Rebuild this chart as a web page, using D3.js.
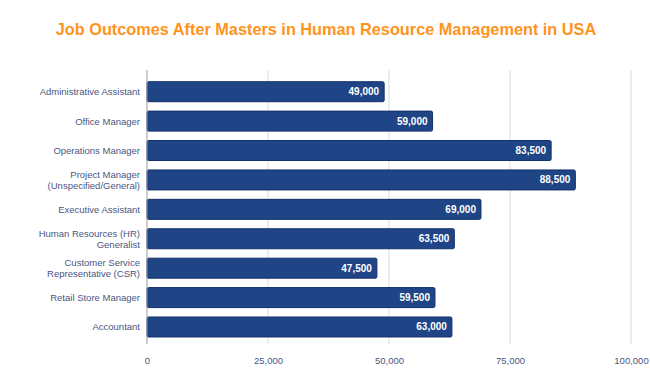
<!DOCTYPE html>
<html><head><meta charset="utf-8">
<script src="https://cdn.jsdelivr.net/npm/d3@7"></script>
<style>body{margin:0;background:#fff;}svg{display:block;font-family:"Liberation Sans",Arial,sans-serif;}</style>
</head><body><div id="chart"></div>
<script>
const categories = [
  "Administrative Assistant",
  "Office Manager",
  "Operations Manager",
  "Project Manager|(Unspecified/General)",
  "Executive Assistant",
  "Human Resources (HR)|Generalist",
  "Customer Service|Representative (CSR)",
  "Retail Store Manager",
  "Accountant"
];
const salaries = [49000, 59000, 83500, 88500, 69000, 63500, 47500, 59500, 63000];
const xTicks = [0, 25000, 50000, 75000, 100000];
const title = "Job Outcomes After Masters in Human Resource Management in USA";

const W = 650, H = 382;
const m = {left: 147, right: 19, top: 77, bottom: 40};
const svg = d3.select("#chart").append("svg").attr("width", W).attr("height", H);

svg.append("text").attr("x", 326).attr("y", 34.5).attr("text-anchor", "middle")
  .attr("fill", "#ff9320").attr("font-size", 16.3).attr("font-weight", "bold").text(title);

const x = d3.scaleLinear().domain([0, 100000]).range([m.left, 631]);
const y = d3.scaleBand().domain(categories).range([m.top, 341.7]).paddingInner(0.32).paddingOuter(0.16);

const fmt = d3.format(",");
// gridlines
svg.append("g").selectAll("line").data(xTicks.slice(1)).join("line")
  .attr("x1", d => x(d)).attr("x2", d => x(d)).attr("y1", 70).attr("y2", 344)
  .attr("stroke", "#dcdcdc").attr("stroke-width", 1);

const xAxis = d3.axisBottom(x).tickValues(xTicks).tickFormat(fmt).tickSize(0).tickPadding(9);
const gx = svg.append("g").attr("transform", "translate(0,348)").call(xAxis);
gx.select(".domain").remove();
gx.selectAll("text").attr("fill", "#4a5682").attr("font-size", 9.5).attr("font-family", "Liberation Sans, Arial, sans-serif");

// bars
svg.append("g").selectAll("rect").data(categories).join("rect")
  .attr("x", x(0)).attr("y", d => y(d))
  .attr("width", (d, i) => x(salaries[i]) - x(0)).attr("height", y.bandwidth())
  .attr("rx", 1.5).attr("fill", "#1f4587").attr("stroke", "#12306a").attr("stroke-width", 1);

// zero axis line
svg.append("line").attr("x1", x(0)).attr("x2", x(0)).attr("y1", 70).attr("y2", 344)
  .attr("stroke", "#9a9a9a").attr("stroke-width", 1);

// value labels
svg.append("g").selectAll("text").data(categories).join("text")
  .attr("x", (d, i) => x(salaries[i]) - 5).attr("y", d => y(d) + y.bandwidth() / 2 + 3.5)
  .attr("text-anchor", "end").attr("fill", "#fff").attr("font-size", 10).attr("font-weight", "bold")
  .text((d, i) => fmt(salaries[i]));

// category labels
const lab = svg.append("g").selectAll("text").data(categories).join("text")
  .attr("text-anchor", "end").attr("fill", "#4a5682").attr("font-size", 9.5);
lab.each(function(d) {
  const lines = d.split("|");
  const cy = y(d) + y.bandwidth() / 2;
  const t = d3.select(this);
  lines.forEach((ln, k) => {
    t.append("tspan").attr("x", 140)
      .attr("y", cy + 3.5 + (k - (lines.length - 1) / 2) * 11.5).text(ln);
  });
});
</script></body></html>
